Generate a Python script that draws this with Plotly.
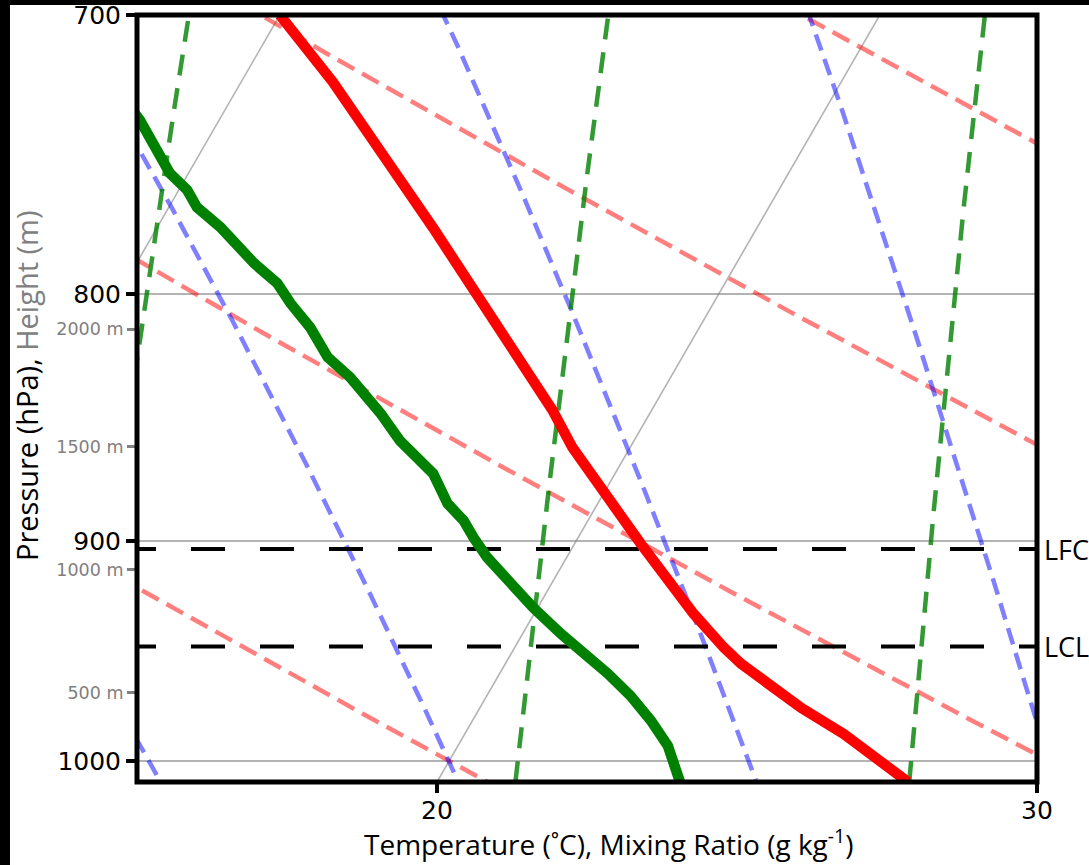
import numpy as np
import plotly.graph_objects as go

# ---------------- figure geometry ----------------
FIG_W, FIG_H = 1089, 865
M_L, M_R, M_T, M_B = 137, 52, 15, 83
PW = FIG_W - M_L - M_R
PH = FIG_H - M_T - M_B

T_RANGE = [15, 30]
P_RANGE = [1010, 700]
SKEW_ANGLE = 30

# ---------------- data ----------------
temp_pressure = [1010, 987.1, 974.9, 963.7, 954.5, 947.2, 932.0, 901.2, 882.9, 860.8,
                 845.6, 803.0, 775.1, 748.5, 722.8, 700.0]
temp_celsius = [27.85, 26.32, 25.36, 24.57, 23.93, 23.49, 22.66, 21.10, 20.19, 19.04,
                18.35, 16.16, 14.61, 13.07, 11.53, 10.0]

dew_pressure = [1010, 992.7, 980.9, 969.3, 959.1, 950.0, 940.9, 929.3, 920.4, 913.0,
                907.3, 898.7, 891.4, 884.2, 880.0, 871.6, 865.0, 858.0, 846.8, 838.8,
                832.4, 824.4, 817.8, 812.7, 803.4, 795.8, 788.2, 780.7, 774.7, 767.4,
                761.1, 755.0, 744.2, 736.1, 729.1]
dew_celsius = [24.05, 23.50, 22.98, 22.40, 21.81, 21.21, 20.64, 19.93, 19.41, 19.03,
               18.68, 18.26, 17.93, 17.50, 17.33, 16.97, 16.55, 16.10, 15.51, 15.02,
               14.66, 14.09, 13.75, 13.51, 12.95, 12.54, 11.96, 11.48, 11.05, 10.47,
               10.14, 9.69, 9.13, 8.68, 8.24]

lcl_pressure = 946.7
lfc_pressure = 903.6
level_labels = ["LFC", "LCL"]

pressure_ticks = [700, 800, 900, 1000]
temperature_ticks = [20, 30]
height_labels = ["500 m", "1000 m", "1500 m", "2000 m"]
height_pressure = [967.9, 912.5, 860.3, 813.4]

isotherm_values = list(range(-100, 61, 10))
dry_adiabat_theta_c = list(range(-30, 201, 10))
moist_adiabat_t0_c = [-40, -30, -20, -10, 0, 5, 10, 15, 20, 25, 30, 35, 40]
mixing_ratio_values = [0.0004, 0.001, 0.002, 0.004, 0.007, 0.01, 0.016, 0.024, 0.032]

# ---------------- skew transform ----------------
K = np.tan(np.radians(SKEW_ANGLE)) * (PH / PW) * (T_RANGE[1] - T_RANGE[0]) / np.log(P_RANGE[0] / P_RANGE[1])


def skew_x(t, p):
    return np.asarray(t, float) + K * np.log(P_RANGE[0] / np.asarray(p, float))


# ---------------- thermodynamics for background lines ----------------
Rd, Cp, Lv, EPS = 287.04749, 1004.6662, 2.50084e6, 0.6219569
KAPPA = Rd / Cp


def sat_vp(tk):
    tc = tk - 273.15
    return 6.112 * np.exp(17.67 * tc / (tc + 243.5))


def moist_dtdp(tk, p):
    e = sat_vp(tk)
    rs = EPS * e / (p - e)
    return (Rd * tk + Lv * rs) / (Cp + Lv * Lv * rs * EPS / (Rd * tk * tk)) / p


def integrate_moist(t0k, p_levels):
    out = [t0k.copy()]
    t = t0k.copy()
    for i in range(1, len(p_levels)):
        p0, p1 = p_levels[i - 1], p_levels[i]
        h = p1 - p0
        k1 = moist_dtdp(t, p0)
        k2 = moist_dtdp(t + 0.5 * h * k1, p0 + 0.5 * h)
        k3 = moist_dtdp(t + 0.5 * h * k2, p0 + 0.5 * h)
        k4 = moist_dtdp(t + h * k3, p1)
        t = t + h / 6 * (k1 + 2 * k2 + 2 * k3 + k4)
        out.append(t.copy())
    return np.array(out)


p_bg = np.geomspace(1040, 620, 160)

fig = go.Figure()

NOHOVER = dict(hoverinfo="skip", showlegend=False, mode="lines")

# isotherms
for tv in isotherm_values:
    fig.add_trace(go.Scatter(x=skew_x(np.full_like(p_bg, tv), p_bg), y=p_bg,
                             line=dict(color="rgba(128,128,128,0.6)", width=1.6), **NOHOVER))

# dry adiabats
for th in dry_adiabat_theta_c:
    tk = (th + 273.15) * (p_bg / 1000.0) ** KAPPA
    fig.add_trace(go.Scatter(x=skew_x(tk - 273.15, p_bg), y=p_bg,
                             line=dict(color="rgba(255,0,0,0.5)", width=4.5, dash="19px,9px"), **NOHOVER))

# moist adiabats (reference 1000 hPa)
t0k = np.array(moist_adiabat_t0_c, float) + 273.15
p_up = np.linspace(1000, 620, 381)
p_dn = np.linspace(1000, 1040, 41)
t_up = integrate_moist(t0k, p_up)
t_dn = integrate_moist(t0k, p_dn)
p_all = np.concatenate([p_dn[::-1], p_up[1:]])
t_all = np.concatenate([t_dn[::-1], t_up[1:]], axis=0)
for j in range(len(moist_adiabat_t0_c)):
    fig.add_trace(go.Scatter(x=skew_x(t_all[:, j] - 273.15, p_all), y=p_all,
                             line=dict(color="rgba(0,0,255,0.5)", width=4.5, dash="17px,9px"), **NOHOVER))

# mixing ratio lines
p_mix = np.geomspace(1010, 600, 80)
for w in mixing_ratio_values:
    e = w * p_mix / (EPS + w)
    le = np.log(e / 6.112)
    td = 243.5 * le / (17.67 - le)
    fig.add_trace(go.Scatter(x=skew_x(td, p_mix), y=p_mix,
                             line=dict(color="rgba(0,128,0,0.8)", width=4.5, dash="21px,13px"), **NOHOVER))

# LCL / LFC lines
for lev in [lfc_pressure, lcl_pressure]:
    fig.add_trace(go.Scatter(x=[T_RANGE[0] - 15 / (PW / (T_RANGE[1] - T_RANGE[0])), T_RANGE[1] + 1],
                             y=[lev, lev],
                             line=dict(color="black", width=4, dash="34px,35px"), **NOHOVER))

# profiles
fig.add_trace(go.Scatter(x=skew_x(temp_celsius, temp_pressure), y=temp_pressure,
                         line=dict(color="#ff0000", width=10.5), **NOHOVER))
fig.add_trace(go.Scatter(x=skew_x(dew_celsius, dew_pressure), y=dew_pressure,
                         line=dict(color="#008000", width=10.5), **NOHOVER))

# dummy trace for height axis
fig.add_trace(go.Scatter(x=[None], y=[None], yaxis="y2", **NOHOVER))

TITLE_FONT = "Open Sans"
yr = [np.log10(P_RANGE[0]), np.log10(P_RANGE[1])]

fig.update_layout(
    width=FIG_W, height=FIG_H,
    margin=dict(l=M_L, r=M_R, t=M_T, b=M_B, autoexpand=False),
    paper_bgcolor="white", plot_bgcolor="white", showlegend=False,
    xaxis=dict(range=T_RANGE, tickvals=temperature_ticks, ticktext=[str(v) for v in temperature_ticks],
               showgrid=False, zeroline=False, showline=False,
               ticks="outside", ticklen=10, tickwidth=4, tickcolor="black",
               ticklabelstandoff=-4,
               tickfont=dict(family="DejaVu Sans", size=25, color="black")),
    yaxis=dict(type="log", range=yr, tickvals=pressure_ticks, ticktext=[str(v) for v in pressure_ticks],
               showgrid=True, gridcolor="rgba(128,128,128,0.6)", gridwidth=2,
               zeroline=False, showline=False,
               ticks="outside", ticklen=10, tickwidth=4, tickcolor="black",
               tickfont=dict(family="DejaVu Sans", size=25, color="black")),
    yaxis2=dict(type="log", range=yr, overlaying="y", side="left", anchor="x",
                tickvals=height_pressure, ticktext=height_labels,
                showgrid=False, zeroline=False, showline=False,
                ticks="outside", ticklen=9, tickwidth=3, tickcolor="#808080",
                tickfont=dict(family="DejaVu Sans", size=17.5, color="#808080")),
)

shapes = [
    dict(type="rect", xref="paper", yref="paper", x0=0, x1=1, y0=0, y1=1,
         line=dict(color="black", width=5), fillcolor="rgba(0,0,0,0)", layer="above"),
    dict(type="rect", xref="paper", yref="paper",
         x0=-M_L / PW, x1=(-M_L + 10) / PW, y0=-M_B / PH - 0.05, y1=1 + M_T / PH + 0.05,
         line=dict(width=0), fillcolor="black", layer="above"),
    dict(type="rect", xref="paper", yref="paper",
         x0=-M_L / PW - 0.05, x1=1 + M_R / PW + 0.05, y0=1 + (M_T - 5) / PH, y1=1 + M_T / PH + 0.05,
         line=dict(width=0), fillcolor="black", layer="above"),
]
fig.update_layout(shapes=shapes)

annotations = [
    dict(text="Temperature (˚C), Mixing Ratio (g kg<sup>-1</sup>)", xref="paper", yref="paper",
         x=(608.5 - M_L) / PW, y=-(842 - (M_T + PH)) / PH, xanchor="center", yanchor="middle",
         showarrow=False, font=dict(family=TITLE_FONT, size=28, color="black")),
    dict(text="Pressure (hPa), <span style='color:#808080'>Height (m)</span>", xref="paper", yref="paper",
         x=(26 - M_L) / PW, y=(M_T + PH - 386) / PH, xanchor="center", yanchor="middle", textangle=-90,
         showarrow=False, font=dict(family=TITLE_FONT, size=29, color="black")),
]
for lab, lev in zip(level_labels, [lfc_pressure, lcl_pressure]):
    annotations.append(dict(text=lab, xref="paper", yref="y", x=1.005, y=np.log10(lev),
                            xanchor="left", yanchor="middle", showarrow=False,
                            font=dict(family=TITLE_FONT, size=27, color="black")))
fig.update_layout(annotations=annotations)

fig.write_html("out.html")
